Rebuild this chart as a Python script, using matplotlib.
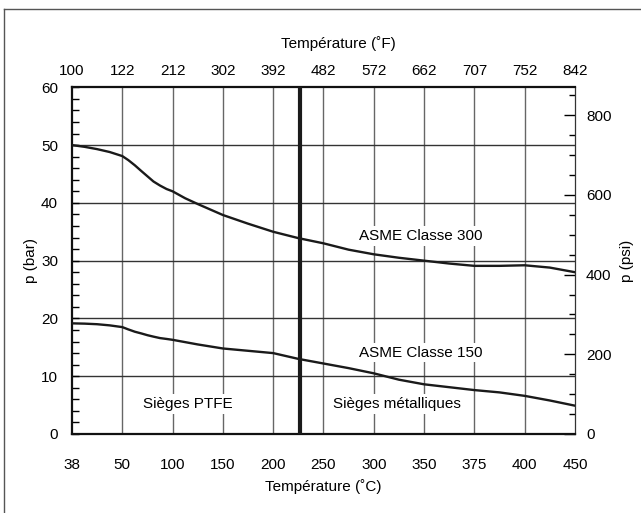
import numpy as np
import matplotlib.pyplot as plt
from matplotlib.lines import Line2D
from matplotlib.ticker import MultipleLocator

plt.rcParams['font.family'] = ['Liberation Sans', 'DejaVu Sans']

# axis categories (equally spaced on the chart)
ticks_c = [38, 50, 100, 150, 200, 250, 300, 350, 375, 400, 450]
ticks_f = [100, 122, 212, 302, 392, 482, 572, 662, 707, 752, 842]

# curves: temperature (C) -> pressure (bar)
temp_c = [38, 41, 44, 47, 50, 56, 62.5, 69, 75, 81, 87.5, 94, 100, 112.5, 125, 150, 175, 200, 225,
          250, 275, 300, 325, 350, 362.5, 375, 387.5, 400, 425, 450]
p_300 = [50.0, 49.7, 49.3, 48.8, 48.1, 47.4, 46.5, 45.5, 44.6, 43.7, 43.0, 42.4, 42.0, 40.8, 39.8,
         37.9, 36.4, 35.0, 33.9, 33.0, 31.9, 31.1, 30.5, 30.0, 29.5, 29.1, 29.1, 29.2, 28.8, 28.0]
p_150 = [19.15, 19.1, 19.0, 18.8, 18.5, 18.1, 17.7, 17.4, 17.1, 16.85, 16.6, 16.45, 16.3, 15.9, 15.5,
         14.8, 14.4, 14.0, 13.0, 12.2, 11.4, 10.5, 9.4, 8.6, 8.1, 7.6, 7.2, 6.6, 5.8, 4.9]
limit_c = 227  # PTFE / metal seat limit

BAR_TO_PSI = 14.5038
FS = 11


def to_pos(t):
    return np.interp(t, ticks_c, np.arange(len(ticks_c)))


fig = plt.figure(figsize=(6.41, 5.13), dpi=100)
ax = fig.add_axes([0.1123, 0.154, 0.7847, 0.6758])

# outer frame (cropped on right and bottom)
fig.add_artist(Line2D([0.007, 0.007], [0, 0.982], color='#555555', lw=1))
fig.add_artist(Line2D([0.007, 1], [0.982, 0.982], color='#555555', lw=1))

pos = np.arange(len(ticks_c))
for x in pos[1:-1]:
    ax.axvline(x, color='#666666', lw=1, zorder=1)
for y in range(10, 60, 10):
    ax.axhline(y, color='#333333', lw=1, zorder=1)

ax.plot(to_pos(temp_c), p_300, color='#1a1a1a', lw=1.7, zorder=3)
ax.plot(to_pos(temp_c), p_150, color='#1a1a1a', lw=1.7, zorder=3)
ax.axvline(to_pos(limit_c), color='#1a1a1a', lw=3, zorder=4)

box = dict(facecolor='white', edgecolor='none', pad=2)
ax.text(6.94, 34.3, 'ASME Classe 300', ha='center', va='center', fontsize=FS, bbox=box, zorder=2)
ax.text(6.94, 14.1, 'ASME Classe 150', ha='center', va='center', fontsize=FS, bbox=box, zorder=2)
ax.text(2.3, 5.2, 'Sièges PTFE', ha='center', va='center', fontsize=FS, bbox=box, zorder=2)
ax.text(6.47, 5.2, 'Sièges métalliques', ha='center', va='center', fontsize=FS, bbox=box, zorder=2)

ax.set_xlim(0, 10)
ax.set_ylim(0, 60)
ax.set_xticks(pos)
ax.set_xticklabels([str(t) for t in ticks_c])
ax.tick_params(axis='x', length=0, pad=17, labelsize=FS)
ax.set_yticks(range(0, 61, 10))
ax.yaxis.set_minor_locator(MultipleLocator(2))
ax.tick_params(axis='y', which='both', direction='in', length=5, width=1, pad=10, labelsize=FS)
ax.tick_params(axis='y', which='both', right=False)

for s in ['top', 'left', 'bottom']:
    ax.spines[s].set_linewidth(1.6)
    ax.spines[s].set_color('#111111')
ax.spines['right'].set_visible(False)

ax.set_xlabel('Température (˚C)', fontsize=FS, labelpad=5)
ax.set_ylabel('p (bar)', fontsize=FS, labelpad=2)

top = ax.secondary_xaxis('top')
top.set_ticks(pos)
top.set_xticklabels([str(t) for t in ticks_f])
top.tick_params(length=0, pad=7, labelsize=FS)
top.spines['top'].set_visible(False)
fig.text(0.528, 0.916, 'Température (˚F)', ha='center', va='center', fontsize=FS)

right = ax.secondary_yaxis('right', functions=(lambda b: b * BAR_TO_PSI, lambda p: p / BAR_TO_PSI))
right.set_yticks(range(0, 801, 200))
right.yaxis.set_minor_locator(MultipleLocator(50))
right.tick_params(which='major', direction='in', length=8, width=1, pad=8, labelsize=FS)
right.tick_params(which='minor', direction='in', length=4, width=1)
right.spines['right'].set_linewidth(0.9)
right.spines['right'].set_color('#333333')
right.set_ylabel('p (psi)', fontsize=FS, labelpad=6)
right.yaxis.label.set_rotation(90)

fig.savefig('out.png', dpi=100)
